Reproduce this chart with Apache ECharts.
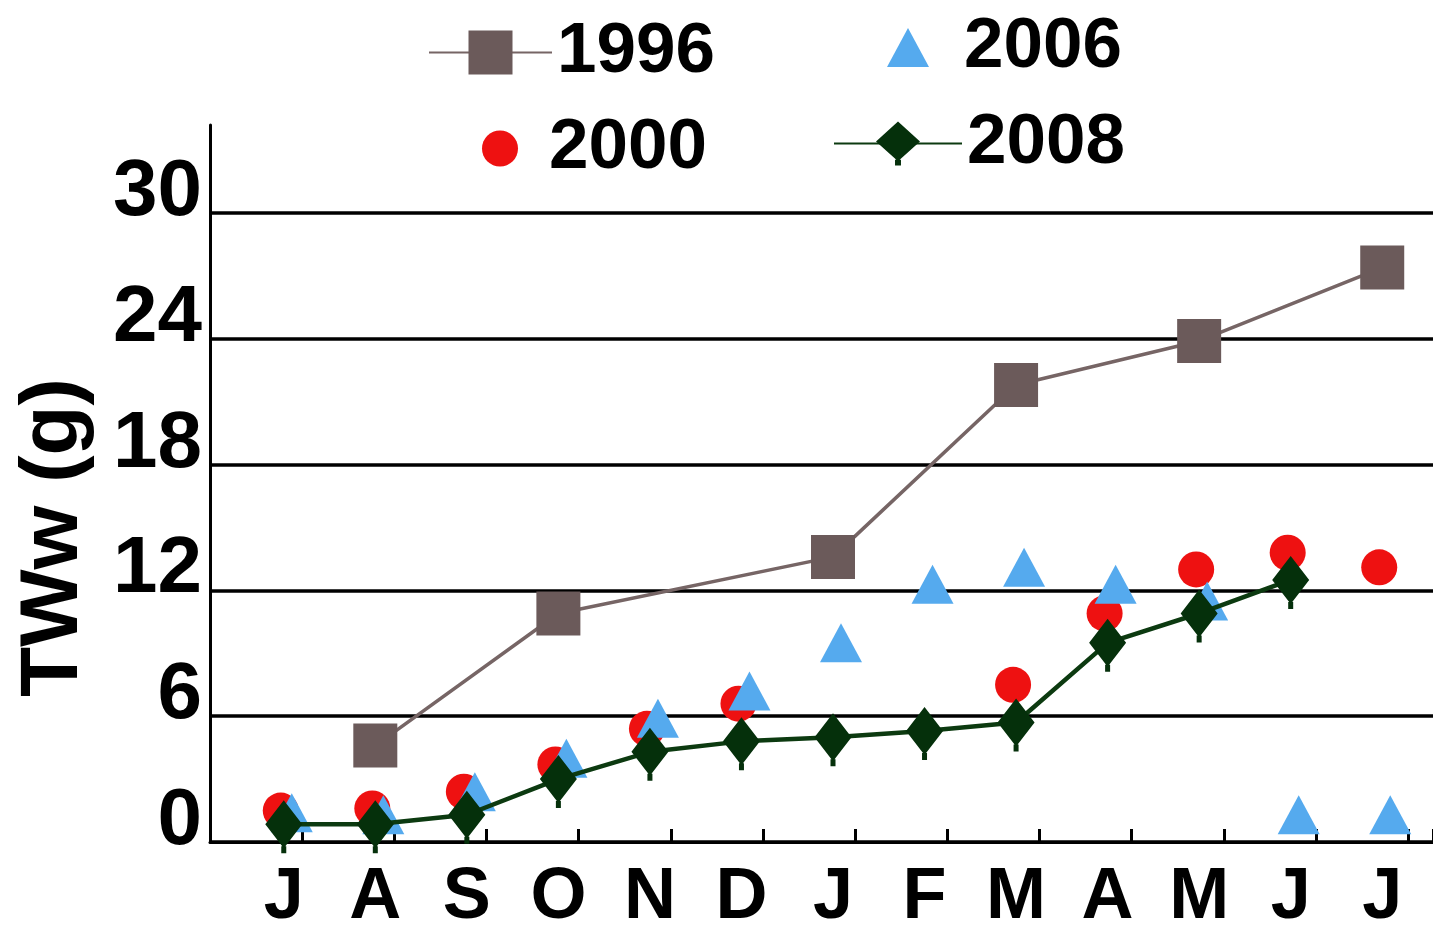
<!DOCTYPE html>
<html>
<head>
<meta charset="utf-8">
<script src="https://cdn.jsdelivr.net/npm/echarts@6/dist/echarts.min.js"></script>
<style>
html,body{margin:0;padding:0;background:#fff;}
#chart{width:1433px;height:926px;}
</style>
</head>
<body>
<div id="chart"></div>
<script>
// ---- data ----
const months = ['J','A','S','O','N','D','J','F','M','A','M','J','J'];
const yTickLabels = [0, 6, 12, 18, 24, 30];
const seriesNames = ['1996', '2000', '2006', '2008'];
const tww1996 = [null, 4.6, null, 10.9, null, null, 13.6, null, 21.8, null, 23.9, null, 27.4];
const tww2000 = [1.5, 1.6, 2.4, 3.7, 5.4, 6.6, null, null, 7.5, 10.9, 13.0, 13.8, 13.1];
const tww2006 = [1.4, 1.3, 2.4, 4.0, 5.9, 7.2, 9.5, 12.3, 13.1, 12.3, 11.5, 1.3, 1.3];
const tww2008 = [0.85, 0.85, 1.3, 3.0, 4.3, 4.8, 5.0, 5.3, 5.7, 9.5, 10.9, 12.5, null];

const FONT = "'Liberation Sans', Arial, sans-serif";
const YMAX = 34.2;
// diamond with a small error-bar cap below it
const DIAMOND_STEM = 'path://M18.5 0 L37 24 L18.5 48 L0 24 Z M16 46 L21 46 L21 53 L16 53 Z';

const chart = echarts.init(document.getElementById('chart'), null, {renderer: 'canvas'});

const legendText = {color: '#000', fontSize: 71, fontWeight: 'bold', fontFamily: FONT};

chart.setOption({
  animation: false,
  backgroundColor: '#fff',
  grid: [
    {left: 210, right: 0, top: 125, bottom: 84, containLabel: false, outerBoundsMode: 'none'},
    {left: 238, right: 5, top: 125, bottom: 84, containLabel: false, outerBoundsMode: 'none'}
  ],
  legend: [
    {data: [seriesNames[0]], left: 423, top: 12, itemWidth: 123, itemHeight: 55,
     selectedMode: false, textStyle: legendText},
    {data: [seriesNames[2]], left: 882, top: 7, itemWidth: 42, itemHeight: 39,
     selectedMode: false, textStyle: Object.assign({padding: [0, 0, 0, 30]}, legendText)},
    {data: [seriesNames[1]], left: 477, top: 108, itemWidth: 36, itemHeight: 36,
     selectedMode: false, textStyle: Object.assign({padding: [0, 0, 0, 26]}, legendText)},
    {data: [seriesNames[3]], left: 828, top: 103, itemWidth: 128, itemHeight: 55,
     selectedMode: false, textStyle: legendText}
  ],
  xAxis: [
    {
      gridIndex: 0, type: 'value', min: 0, max: 13.27, interval: 1,
      axisLine: {show: true, onZero: false, lineStyle: {color: '#000', width: 3}},
      axisTick: {show: true, inside: true, length: 13, lineStyle: {color: '#000', width: 3}},
      axisLabel: {show: false},
      splitLine: {show: false}
    },
    {
      gridIndex: 1, type: 'category', data: months, boundaryGap: true,
      axisLine: {show: false},
      axisTick: {show: false},
      axisLabel: {color: '#000', fontSize: 72, fontWeight: 'bold', fontFamily: FONT, margin: 20, interval: 0},
      splitLine: {show: false}
    }
  ],
  yAxis: [
    {
      gridIndex: 0, type: 'value', min: 0, max: YMAX, interval: 6,
      axisLine: {show: true, lineStyle: {color: '#000', width: 3}},
      axisTick: {show: false},
      splitLine: {show: true, showMaxLine: false, lineStyle: {color: '#000', width: 3.5}},
      axisLabel: {
        showMaxLabel: false, color: '#000', fontSize: 80, fontWeight: 'bold', fontFamily: FONT,
        margin: 8, verticalAlign: 'bottom', lineHeight: 40,
        formatter: v => (yTickLabels.indexOf(v) >= 0 ? String(v) : '')
      },
      name: 'TWw (g)', nameLocation: 'middle', nameGap: 115,
      nameTextStyle: {color: '#000', fontSize: 82, fontWeight: 'bold', fontFamily: FONT, padding: [0, 108, 0, 0]}
    },
    {
      gridIndex: 1, type: 'value', min: 0, max: YMAX, show: false
    }
  ],
  series: [
    {
      name: seriesNames[0], type: 'line', xAxisIndex: 1, yAxisIndex: 1,
      data: tww1996, connectNulls: true, showAllSymbol: true,
      symbol: 'rect', symbolSize: 44,
      itemStyle: {color: '#6b5a5a'},
      lineStyle: {color: '#766565', width: 3.5}
    },
    {
      name: seriesNames[1], type: 'scatter', xAxisIndex: 1, yAxisIndex: 1,
      data: tww2000, symbol: 'circle', symbolSize: 36, symbolOffset: [-3, 0],
      itemStyle: {color: '#ee1111', opacity: 1}
    },
    {
      name: seriesNames[2], type: 'scatter', xAxisIndex: 1, yAxisIndex: 1,
      data: tww2006, symbol: 'triangle', symbolSize: [42, 39], symbolOffset: [8, 0],
      itemStyle: {color: '#55aaee', opacity: 1}
    },
    {
      name: seriesNames[3], type: 'line', xAxisIndex: 1, yAxisIndex: 1,
      data: tww2008, connectNulls: false, showAllSymbol: true,
      symbol: DIAMOND_STEM, symbolSize: [37, 53], symbolOffset: [0, 2.5],
      itemStyle: {color: '#05300b'},
      lineStyle: {color: '#0c3a10', width: 4.5}
    }
  ]
});
</script>
</body>
</html>
